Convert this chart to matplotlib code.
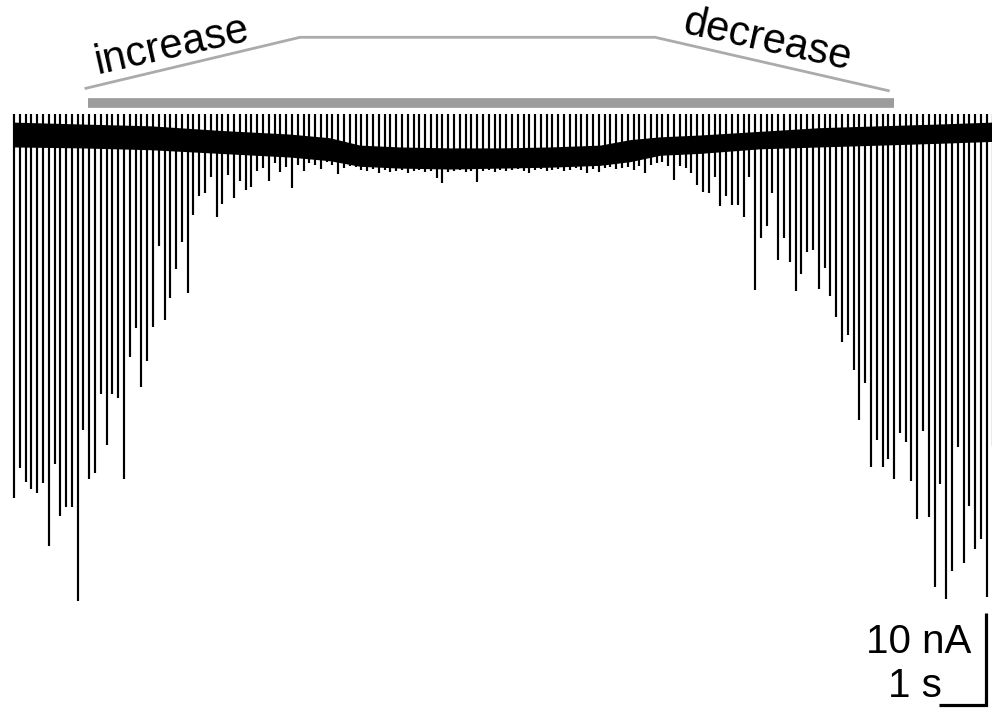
import numpy as np
import matplotlib
matplotlib.use("Agg")
import matplotlib.pyplot as plt

plt.rcParams['font.family'] = ['Liberation Sans', 'DejaVu Sans']

# ---------------- data ----------------
stim_interval_s = 0.125          # one stimulus every 125 ms
spike_peak_nA = 2.3              # upward tip of each stimulus artefact

# peak inward current of each response (nA), in order of stimulation
peak_current_nA = [
    -39.5, -36.2, -37.7, -38.5, -38.9, -37.8, -44.7, -35.8, -41.4, -40.4,
    -40.4, -50.7, -32.1, -37.4, -36.7, -28.2, -33.7, -28.2, -28.6, -37.4,
    -24.1, -21.0, -27.4, -24.6, -20.9, -12.1, -20.1, -17.7, -14.6, -11.6,
    -17.2, -8.7, -6.6, -6.3, -4.6, -8.9, -7.5, -4.3, -6.8, -5.0,
    -6.0, -5.7, -3.9, -3.6, -5.0, -3.0, -4.0, -3.5, -5.8, -3.3,
    -3.9, -3.0, -3.3, -3.7, -2.9, -3.3, -4.2, -3.6, -3.4, -3.5,
    -3.8, -3.9, -3.7, -4.1, -3.8, -4.0, -3.9, -3.8, -4.1, -3.9,
    -3.8, -4.0, -3.9, -4.7, -5.2, -4.0, -3.9, -3.8, -4.0, -3.9,
    -5.1, -3.9, -3.8, -4.0, -3.8, -3.9, -3.8, -3.7, -3.9, -4.1,
    -3.8, -3.7, -3.9, -3.8, -3.7, -3.9, -3.8, -3.6, -3.8, -4.1,
    -3.7, -4.0, -3.6, -3.5, -3.7, -3.6, -3.5, -3.8, -3.4, -4.1,
    -3.3, -3.0, -2.9, -3.4, -4.9, -3.4, -3.6, -4.1, -5.4, -6.2,
    -6.3, -4.6, -7.7, -6.6, -7.6, -7.6, -8.9, -4.6, -16.8, -11.2,
    -9.9, -6.3, -13.6, -11.2, -13.8, -17.0, -15.1, -12.7, -12.5, -16.7,
    -14.5, -17.5, -19.8, -22.5, -21.7, -25.5, -31.0, -27.0, -36.1, -33.2,
    -36.1, -35.2, -37.4, -32.4, -33.4, -37.6, -41.7, -32.2, -41.5, -49.1,
    -37.9, -50.4, -47.4, -33.9, -46.5, -40.3, -45.0, -43.9, -50.2, -33.8,
]

# holding-current noise band (upper / lower envelope, nA) over time (s)
band_time_s = [0.0, 1.42, 2.94, 4.45, 5.96, 6.82, 7.47, 8.33, 9.41, 10.49,
               11.57, 12.65, 13.30, 13.95, 14.81, 16.11, 17.40, 18.70, 19.99, 21.11]
band_upper_nA = [1.4, 1.2, 1.0, 0.5, 0.1, -0.3, -1.1, -1.3, -1.4, -1.4,
                 -1.3, -1.1, -0.5, -0.2, 0.0, 0.4, 0.8, 1.0, 1.2, 1.4]
band_lower_nA = [-1.3, -1.4, -1.6, -2.0, -2.4, -2.8, -3.4, -3.6, -3.7, -3.6,
                 -3.5, -3.3, -2.9, -2.2, -2.0, -1.5, -1.3, -1.1, -0.9, -0.7]

# ---------------- figure ----------------
W, H = 992, 708
fig = plt.figure(figsize=(W / 100, H / 100), dpi=100)
ax = fig.add_axes([0, 0, 1, 1])
ax.axis('off')

px_per_s = 46.32
px_per_nA = 9.2
x0_px, y0_px = 14, 135
ax.set_xlim(-x0_px / px_per_s, (W - x0_px) / px_per_s)
ax.set_ylim((y0_px - H) / px_per_nA, y0_px / px_per_nA)

trace_color = '#000000'
ax.fill_between(band_time_s, band_lower_nA, band_upper_nA,
                color=trace_color, lw=0, zorder=2)

spike_t = np.arange(len(peak_current_nA)) * stim_interval_s
ax.vlines(spike_t, peak_current_nA, spike_peak_nA, color=trace_color,
          lw=1.55, zorder=3)

# stimulus protocol annotation
ax.plot([1.60, 19.0], [3.53, 3.53], color='#9c9c9c', lw=7,
        solid_capstyle='butt', zorder=4)
ax.plot([1.554, 6.175, 13.84, 18.875], [5.08, 10.62, 10.62, 4.82],
        color='#ababab', lw=2.0, solid_joinstyle='miter', zorder=4)

fig.text(172 / W, 1 - 46 / H, 'increase', fontsize=30, rotation=12.5,
         ha='center', va='center', rotation_mode='anchor')
fig.text(767 / W, 1 - 41 / H, 'decrease', fontsize=30, rotation=-12.5,
         ha='center', va='center', rotation_mode='anchor')

# scale bar: 1 s, 10 nA
sb_x = (985.5 - x0_px) / px_per_s
sb_y = (y0_px - 704.5) / px_per_nA
ax.plot([sb_x - 1.0, sb_x, sb_x], [sb_y, sb_y, sb_y + 10.0], color='black',
        lw=2.3, solid_joinstyle='miter', solid_capstyle='butt', zorder=5)
fig.text(919 / W, 1 - 653 / H, '10 nA', fontsize=29, ha='center',
         va='baseline')
fig.text(915 / W, 1 - 697 / H, '1 s', fontsize=29, ha='center',
         va='baseline')

fig.savefig('out.png', dpi=100)
